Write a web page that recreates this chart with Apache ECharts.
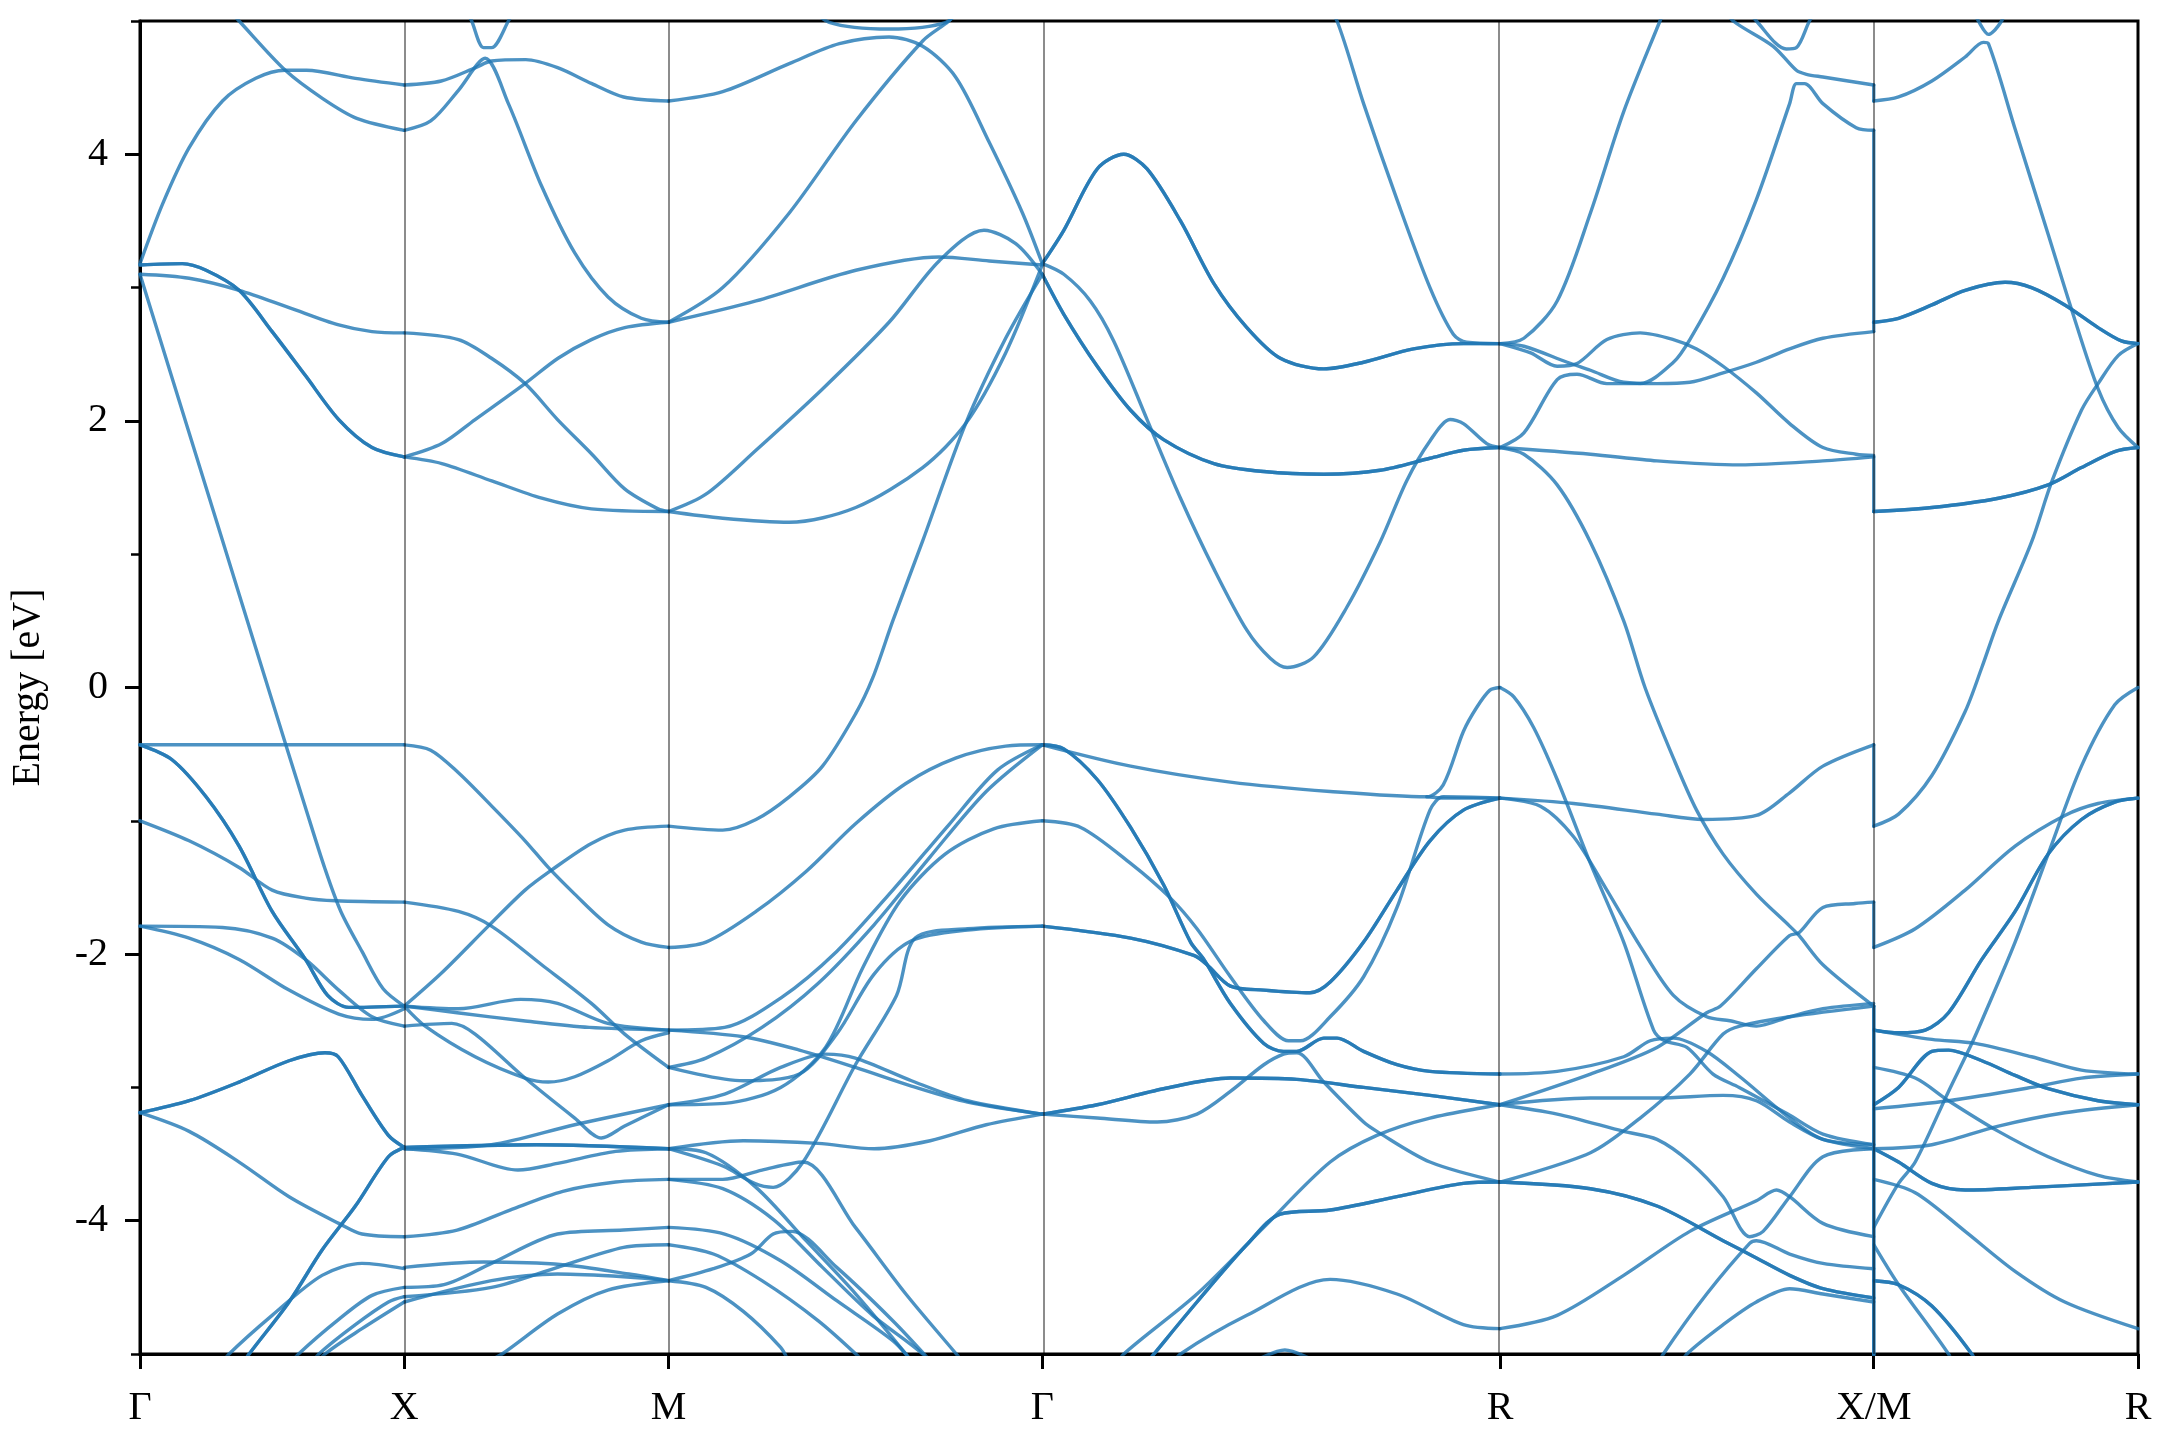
<!DOCTYPE html>
<html><head><meta charset="utf-8">
<script src="https://cdn.jsdelivr.net/npm/echarts@6/dist/echarts.min.js"></script>
<style>html,body{margin:0;padding:0;background:#fff}#c{width:2160px;height:1440px}</style>
</head><body><div id="c"></div>
<script>
// k-path nodes (reciprocal-space distance) and labels
const kNodes = [0, 0.5, 1.0, 1.7071, 2.5731, 3.2802, 3.7802];
const kLabels = ['Γ', 'X', 'M', 'Γ', 'R', 'X/M', 'R'];
const yMajor = [-4, -2, 0, 2, 4];
const yMinor = [-5, -3, -1, 1, 3, 5];

// Bands per path segment: each curve is a list of [fraction along segment, energy eV]
// "deg" lists hold doubly degenerate bands (drawn twice)
const bandsGX = [
  [[0.30,5.16],[0.375,5.0],[0.55,4.63],[0.69,4.42],[0.82,4.27],[1,4.18]],
  [[0,3.18],[0.086,3.63],[0.186,4.05],[0.312,4.40],[0.438,4.57],[0.55,4.63],[0.63,4.63],[0.815,4.57],[1,4.52]],
  [[0,3.10],[0.186,3.07],[0.375,2.98],[0.564,2.85],[0.752,2.72],[0.878,2.67],[1,2.66]],
  [[0,3.10],[0.125,2.30],[0.25,1.50],[0.375,0.70],[0.5,-0.10],[0.626,-0.90],[0.70,-1.36],[0.76,-1.68],[0.84,-1.98],[0.92,-2.26],[1,-2.39]],
  [[0,-0.43],[0.5,-0.43],[1,-0.43]],
  [[0,-1.0],[0.186,-1.15],[0.375,-1.35],[0.5,-1.52],[0.626,-1.58],[0.74,-1.60],[1,-1.61]],
  [[0,-1.79],[0.312,-1.80],[0.5,-1.88],[0.626,-2.04],[0.752,-2.27],[0.878,-2.47],[1,-2.54]],
  [[0,-1.79],[0.186,-1.88],[0.375,-2.04],[0.564,-2.27],[0.752,-2.45],[0.878,-2.49],[1,-2.41]],
  [[0,-3.19],[0.186,-3.33],[0.375,-3.56],[0.564,-3.82],[0.752,-4.02],[0.84,-4.10],[1,-4.12]],
  [[0.30,-5.1],[0.337,-5.0],[0.5,-4.71],[0.689,-4.41],[0.84,-4.32],[1,-4.36]],
  [[0.56,-5.1],[0.6,-5.0],[0.752,-4.74],[0.878,-4.56],[1,-4.50]],
  [[0.64,-5.1],[0.677,-5.0],[0.815,-4.78],[0.94,-4.61],[1,-4.57]],
  [[0.66,-5.1],[0.70,-5.0],[0.84,-4.81],[1,-4.61]]
];
const degGX = [
  [[0,3.17],[0.16,3.18],[0.25,3.13],[0.375,2.98],[0.5,2.67],[0.626,2.34],[0.752,2.01],[0.878,1.80],[1,1.73]],
  [[0,-0.43],[0.12,-0.54],[0.25,-0.82],[0.375,-1.19],[0.5,-1.68],[0.626,-2.04],[0.71,-2.31],[0.79,-2.40],[1,-2.39]],
  [[0,-3.19],[0.186,-3.10],[0.375,-2.96],[0.564,-2.80],[0.70,-2.74],[0.75,-2.77],[0.84,-3.06],[0.94,-3.36],[1,-3.45]],
  [[0.38,-5.1],[0.413,-5.0],[0.564,-4.61],[0.689,-4.22],[0.815,-3.89],[0.94,-3.52],[1,-3.45]]
];

const bandsXM = [
  [[0,4.52],[0.14,4.55],[0.27,4.65],[0.33,4.70],[0.46,4.71],[0.58,4.65],[0.71,4.53],[0.83,4.43],[1,4.40]],
  [[0,4.18],[0.10,4.25],[0.205,4.48],[0.306,4.72],[0.394,4.38],[0.52,3.76],[0.645,3.26],[0.771,2.93],[0.897,2.77],[1,2.74]],
  [[0.22,5.15],[0.255,5.0],[0.30,4.80],[0.33,4.80],[0.394,5.0],[0.43,5.15]],
  [[0,2.66],[0.205,2.61],[0.33,2.47],[0.457,2.28],[0.58,2.01],[0.71,1.75],[0.834,1.49],[0.96,1.34],[1,1.32]],
  [[0,1.73],[0.142,1.83],[0.268,2.01],[0.457,2.28],[0.582,2.47],[0.708,2.61],[0.834,2.70],[1,2.74]],
  [[0,1.73],[0.142,1.68],[0.331,1.55],[0.52,1.42],[0.708,1.34],[1,1.32]],
  [[0,-0.43],[0.1,-0.47],[0.205,-0.64],[0.331,-0.89],[0.457,-1.15],[0.545,-1.35],[0.645,-1.55],[0.771,-1.78],[0.897,-1.91],[1,-1.95]],
  [[0,-2.39],[0.142,-2.14],[0.318,-1.79],[0.457,-1.52],[0.557,-1.37],[0.708,-1.17],[0.834,-1.07],[1,-1.04]],
  [[0,-1.61],[0.205,-1.68],[0.33,-1.79],[0.52,-2.08],[0.708,-2.37],[0.834,-2.60],[1,-2.85]],
  [[0,-2.39],[0.205,-2.41],[0.44,-2.34],[0.58,-2.37],[0.77,-2.52],[1,-2.57]],
  [[0,-2.39],[0.2,-2.44],[0.45,-2.50],[0.7,-2.55],[1,-2.57]],
  [[0,-2.39],[0.079,-2.54],[0.268,-2.77],[0.457,-2.93],[0.545,-2.96],[0.645,-2.92],[0.771,-2.80],[0.897,-2.65],[1,-2.59]],
  [[0,-2.54],[0.18,-2.52],[0.268,-2.60],[0.457,-2.93],[0.645,-3.23],[0.746,-3.38],[0.834,-3.29],[1,-3.13]],
  [[0,-3.46],[0.33,-3.43],[0.645,-3.28],[1,-3.13]],
  [[0,-3.46],[0.2,-3.50],[0.43,-3.62],[0.58,-3.57],[0.8,-3.48],[1,-3.46]],
  [[0,-4.12],[0.2,-4.07],[0.4,-3.92],[0.6,-3.78],[0.8,-3.71],[1,-3.69]],
  [[0,-4.35],[0.3,-4.31],[0.6,-4.33],[0.85,-4.40],[1,-4.45]],
  [[0,-4.50],[0.15,-4.48],[0.33,-4.32],[0.58,-4.10],[0.83,-4.07],[1,-4.05]],
  [[0,-4.57],[0.33,-4.50],[0.58,-4.35],[0.83,-4.20],[1,-4.18]],
  [[0,-4.61],[0.33,-4.45],[0.58,-4.40],[0.83,-4.42],[1,-4.45]],
  [[0.32,-5.05],[0.37,-5.0],[0.58,-4.7],[0.77,-4.52],[1,-4.45]]
];
const degXM = [
  [[0,-3.45],[0.5,-3.43],[1,-3.46]]
];

const bandsMG = [
  [[0.36,5.15],[0.43,4.99],[0.59,4.94],[0.742,4.99],[0.80,5.15]],
  [[0,4.40],[0.145,4.47],[0.323,4.68],[0.457,4.83],[0.59,4.88],[0.68,4.81],[0.768,4.58],[0.858,4.09],[0.947,3.56],[1,3.18]],
  [[0,2.74],[0.145,3.0],[0.323,3.56],[0.501,4.25],[0.68,4.85],[0.75,5.0],[0.78,5.1]],
  [[0,2.74],[0.234,2.90],[0.501,3.13],[0.724,3.23],[0.858,3.20],[1,3.17]],
  [[0,1.32],[0.1,1.45],[0.234,1.78],[0.412,2.24],[0.59,2.74],[0.724,3.20],[0.844,3.43],[0.929,3.33],[1,3.10]],
  [[0,1.32],[0.145,1.27],[0.323,1.24],[0.501,1.35],[0.68,1.65],[0.795,1.98],[0.902,2.51],[1,3.17]],
  [[0,-1.04],[0.145,-1.07],[0.234,-0.99],[0.323,-0.82],[0.412,-0.59],[0.50,-0.20],[0.546,0.07],[0.60,0.5],[0.68,1.10],[0.795,1.98],[0.902,2.62],[1,3.10]],
  [[0,-1.95],[0.1,-1.91],[0.234,-1.68],[0.368,-1.38],[0.501,-1.02],[0.635,-0.72],[0.768,-0.53],[0.902,-0.44],[1,-0.43]],
  [[0,-2.57],[0.15,-2.55],[0.3,-2.33],[0.45,-1.98],[0.6,-1.52],[0.75,-1.03],[0.88,-0.62],[1,-0.43]],
  [[0,-2.85],[0.1,-2.78],[0.25,-2.55],[0.4,-2.22],[0.55,-1.78],[0.7,-1.27],[0.85,-0.78],[1,-0.43]],
  [[0,-2.57],[0.2,-2.62],[0.35,-2.72],[0.5,-2.85],[0.65,-2.99],[0.8,-3.11],[1,-3.2]],
  [[0,-3.13],[0.15,-3.05],[0.3,-2.85],[0.42,-2.75],[0.5,-2.78],[0.65,-2.95],[0.8,-3.1],[1,-3.2]],
  [[0,-3.13],[0.15,-3.12],[0.3,-3.0],[0.42,-2.7],[0.52,-2.1],[0.62,-1.6],[0.74,-1.25],[0.87,-1.06],[1,-1.0]],
  [[0,-3.46],[0.145,-3.59],[0.23,-3.72],[0.28,-3.75],[0.36,-3.56],[0.5,-2.83],[0.61,-2.31],[0.66,-1.88],[0.8,-1.81],[1,-1.79]],
  [[0,-2.85],[0.2,-2.95],[0.35,-2.9],[0.45,-2.6],[0.55,-2.15],[0.65,-1.9],[0.8,-1.82],[1,-1.79]],
  [[0,-3.46],[0.2,-3.40],[0.4,-3.42],[0.55,-3.46],[0.7,-3.40],[0.85,-3.28],[1,-3.2]],
  [[0,-3.69],[0.145,-3.69],[0.25,-3.62],[0.36,-3.56],[0.5,-4.05],[0.635,-4.55],[0.77,-5.0],[0.8,-5.1]],
  [[0,-3.46],[0.1,-3.49],[0.234,-3.75],[0.368,-4.15],[0.501,-4.55],[0.635,-5.0],[0.66,-5.1]],
  [[0,-3.69],[0.145,-3.76],[0.28,-3.99],[0.412,-4.35],[0.546,-4.71],[0.68,-5.0],[0.7,-5.1]],
  [[0,-4.05],[0.15,-4.1],[0.3,-4.3],[0.45,-4.6],[0.6,-4.9],[0.65,-5.05]],
  [[0,-4.18],[0.12,-4.25],[0.25,-4.45],[0.4,-4.75],[0.52,-5.05]],
  [[0,-4.45],[0.1,-4.5],[0.2,-4.68],[0.3,-4.95],[0.32,-5.05]],
  [[0,-4.45],[0.12,-4.36],[0.22,-4.25],[0.28,-4.10],[0.33,-4.08],[0.45,-4.35],[0.6,-4.75],[0.7,-5.05]]
];
const degMG = [];

const bandsGR = [
  [[0,3.18],[0.047,3.10],[0.105,2.90],[0.156,2.60],[0.229,2.01],[0.302,1.42],[0.375,0.89],[0.447,0.43],[0.498,0.22],[0.535,0.15],[0.593,0.23],[0.665,0.60],[0.738,1.09],[0.796,1.55],[0.847,1.85],[0.891,2.01],[0.92,1.98],[0.971,1.83],[1,1.80]],
  [[0.62,5.1],[0.644,5.0],[0.702,4.38],[0.775,3.66],[0.847,3.0],[0.898,2.65],[0.927,2.59],[1,2.58]],
  [[0,-0.43],[0.193,-0.59],[0.411,-0.71],[0.629,-0.78],[0.84,-0.82],[0.876,-0.73],[0.92,-0.33],[0.949,-0.15],[0.978,-0.02],[1,0.0]],
  [[0.84,-0.82],[0.88,-0.83],[1,-0.83]],
  [[0,-1.0],[0.084,-1.05],[0.193,-1.32],[0.28,-1.58],[0.338,-1.81],[0.411,-2.17],[0.484,-2.50],[0.538,-2.65],[0.564,-2.65],[0.629,-2.47],[0.702,-2.17],[0.775,-1.65],[0.847,-0.92],[0.876,-0.82],[1,-0.83]],
  [[0,-3.2],[0.12,-3.23],[0.251,-3.26],[0.338,-3.2],[0.411,-3.03],[0.484,-2.83],[0.527,-2.75],[0.556,-2.74],[0.615,-2.96],[0.702,-3.26],[0.731,-3.33],[0.847,-3.56],[1,-3.71]],
  [[0.16,-5.1],[0.178,-5.0],[0.338,-4.55],[0.484,-4.05],[0.629,-3.56],[0.731,-3.36],[0.847,-3.23],[1,-3.13]],
  [[0.28,-5.1],[0.302,-5.0],[0.447,-4.71],[0.629,-4.44],[0.775,-4.55],[0.92,-4.78],[1,-4.81]],
  [[0.46,-5.06],[0.53,-4.97],[0.60,-5.06]]
];
const degGR = [
  [[0,3.18],[0.047,3.43],[0.12,3.89],[0.178,4.00],[0.229,3.89],[0.302,3.50],[0.375,3.03],[0.447,2.70],[0.52,2.47],[0.615,2.39],[0.702,2.44],[0.811,2.54],[0.92,2.58],[1,2.58]],
  [[0,3.10],[0.047,2.80],[0.12,2.41],[0.193,2.08],[0.265,1.86],[0.375,1.68],[0.484,1.62],[0.615,1.60],[0.738,1.63],[0.847,1.72],[0.92,1.78],[1,1.80]],
  [[0,-0.43],[0.047,-0.46],[0.12,-0.69],[0.193,-1.05],[0.265,-1.48],[0.324,-1.91],[0.353,-2.04],[0.411,-2.37],[0.484,-2.67],[0.527,-2.73],[0.556,-2.73],[0.615,-2.63],[0.644,-2.63],[0.702,-2.73],[0.775,-2.83],[0.847,-2.88],[1,-2.90]],
  [[0,-1.79],[0.193,-1.88],[0.331,-2.01],[0.36,-2.08],[0.411,-2.24],[0.484,-2.27],[0.585,-2.29],[0.629,-2.21],[0.702,-1.91],[0.775,-1.52],[0.847,-1.15],[0.92,-0.92],[1,-0.83]],
  [[0,-3.2],[0.12,-3.13],[0.265,-3.01],[0.411,-2.93],[0.556,-2.94],[0.702,-3.0],[0.847,-3.06],[1,-3.13]],
  [[0.22,-5.1],[0.244,-5.0],[0.338,-4.61],[0.447,-4.18],[0.52,-3.95],[0.629,-3.92],[0.775,-3.82],[0.92,-3.72],[1,-3.71]]
];

const bandsRX = [
  [[0,2.58],[0.064,2.62],[0.153,2.90],[0.242,3.56],[0.331,4.32],[0.428,5.0],[0.45,5.15]],
  [[0,2.58],[0.082,2.51],[0.153,2.41],[0.206,2.43],[0.286,2.61],[0.375,2.66],[0.464,2.61],[0.526,2.54],[0.597,2.41],[0.686,2.21],[0.775,1.98],[0.864,1.80],[0.953,1.75],[1,1.74]],
  [[0,2.58],[0.064,2.56],[0.18,2.44],[0.242,2.38],[0.331,2.29],[0.42,2.28],[0.508,2.29],[0.597,2.36],[0.686,2.44],[0.775,2.54],[0.864,2.62],[1,2.67]],
  [[0,1.80],[0.064,1.91],[0.153,2.31],[0.206,2.35],[0.286,2.28],[0.375,2.28],[0.464,2.44],[0.508,2.61],[0.597,3.07],[0.686,3.66],[0.775,4.38],[0.793,4.53],[0.815,4.53],[0.864,4.38],[0.953,4.20],[1,4.18]],
  [[0,1.80],[0.242,1.75],[0.42,1.70],[0.642,1.67],[0.864,1.70],[1,1.73]],
  [[0,1.80],[0.064,1.75],[0.153,1.52],[0.242,1.09],[0.331,0.50],[0.388,0.0],[0.464,-0.53],[0.526,-0.92],[0.597,-1.25],[0.686,-1.55],[0.775,-1.79],[0.80,-1.86],[0.864,-2.08],[1,-2.39]],
  [[0.60,5.1],[0.624,5.0],[0.731,4.81],[0.793,4.63],[0.82,4.60],[0.864,4.58],[1,4.52]],
  [[0.66,5.1],[0.686,5.0],[0.766,4.79],[0.793,4.80],[0.828,5.0],[0.85,5.1]],
  [[0,0.0],[0.037,-0.07],[0.09,-0.30],[0.153,-0.69],[0.242,-1.32],[0.331,-1.91],[0.411,-2.57],[0.44,-2.65],[0.50,-2.70],[0.57,-2.90],[0.64,-3.0],[0.77,-3.20],[0.864,-3.35],[1,-3.43]],
  [[0,-0.83],[0.197,-0.87],[0.42,-0.95],[0.544,-0.99],[0.686,-0.96],[0.775,-0.79],[0.864,-0.59],[1,-0.43]],
  [[0,-0.83],[0.108,-0.89],[0.197,-1.12],[0.286,-1.52],[0.375,-1.94],[0.464,-2.31],[0.553,-2.47],[0.615,-2.50],[0.686,-2.54],[0.775,-2.47],[0.864,-2.41],[1,-2.37]],
  [[0,-2.90],[0.153,-2.88],[0.331,-2.77],[0.402,-2.65],[0.464,-2.63],[0.553,-2.73],[0.642,-2.92],[0.775,-3.23],[0.864,-3.39],[1,-3.43]],
  [[0,-3.13],[0.242,-3.08],[0.42,-3.08],[0.597,-3.06],[0.686,-3.10],[0.775,-3.26],[0.864,-3.39],[1,-3.46]],
  [[0,-3.13],[0.153,-3.2],[0.331,-3.33],[0.42,-3.39],[0.508,-3.56],[0.597,-3.82],[0.668,-4.12],[0.704,-4.08],[0.775,-3.82],[0.864,-3.52],[1,-3.46]],
  [[0,-3.13],[0.242,-2.90],[0.42,-2.70],[0.553,-2.44],[0.59,-2.39],[0.686,-2.11],[0.775,-1.86],[0.80,-1.84],[0.864,-1.65],[0.95,-1.62],[1,-1.61]],
  [[0,-3.71],[0.242,-3.49],[0.375,-3.23],[0.508,-2.90],[0.597,-2.60],[0.642,-2.54],[0.775,-2.47],[1,-2.39]],
  [[0,-4.81],[0.153,-4.71],[0.331,-4.41],[0.508,-4.08],[0.686,-3.85],[0.74,-3.77],[0.775,-3.82],[0.864,-4.02],[1,-4.12]],
  [[0.42,-5.1],[0.437,-5.0],[0.553,-4.55],[0.668,-4.17],[0.686,-4.15],[0.775,-4.25],[0.864,-4.32],[1,-4.36]],
  [[0.48,-5.1],[0.5,-5.0],[0.597,-4.78],[0.686,-4.61],[0.775,-4.51],[0.864,-4.55],[1,-4.61]]
];
const degRX = [
  [[0,-3.71],[0.242,-3.76],[0.42,-3.89],[0.597,-4.15],[0.686,-4.28],[0.775,-4.41],[0.864,-4.51],[1,-4.58]]
];

const bandsMR = [
  [[0,4.40],[0.094,4.43],[0.22,4.55],[0.346,4.73],[0.415,4.84],[0.434,4.83],[0.535,4.19],[0.66,3.40],[0.748,2.84],[0.849,2.24],[0.925,1.95],[1,1.80]],
  [[0.37,5.1],[0.396,5.0],[0.434,4.90],[0.484,5.0],[0.50,5.1]],
  [[0,-1.04],[0.094,-0.95],[0.22,-0.66],[0.346,-0.18],[0.409,0.15],[0.472,0.50],[0.597,1.09],[0.673,1.54],[0.786,2.08],[0.849,2.28],[0.925,2.49],[1,2.58]],
  [[0,-1.95],[0.157,-1.81],[0.346,-1.52],[0.535,-1.19],[0.723,-0.96],[0.849,-0.87],[1,-0.83]],
  [[0,-4.05],[0.094,-3.72],[0.157,-3.56],[0.283,-3.03],[0.371,-2.67],[0.409,-2.50],[0.535,-1.91],[0.66,-1.25],[0.786,-0.59],[0.912,-0.13],[1,0.0]],
  [[0,-2.57],[0.22,-2.64],[0.384,-2.67],[0.597,-2.77],[0.786,-2.87],[1,-2.90]],
  [[0,-3.16],[0.283,-3.1],[0.597,-3.0],[0.786,-2.93],[1,-2.90]],
  [[0,-2.85],[0.157,-2.93],[0.283,-3.1],[0.472,-3.33],[0.66,-3.52],[0.849,-3.66],[1,-3.71]],
  [[0,-3.46],[0.22,-3.43],[0.472,-3.29],[0.723,-3.19],[1,-3.13]],
  [[0,-3.69],[0.157,-3.79],[0.346,-4.08],[0.535,-4.38],[0.723,-4.61],[1,-4.81]],
  [[0,-4.18],[0.094,-4.48],[0.283,-5.0],[0.30,-5.1]]
];
const degMR = [
  [[0,2.74],[0.094,2.77],[0.22,2.87],[0.346,2.98],[0.497,3.04],[0.597,3.0],[0.723,2.87],[0.849,2.70],[0.937,2.60],[1,2.58]],
  [[0,1.32],[0.22,1.35],[0.472,1.42],[0.66,1.52],[0.786,1.65],[0.912,1.77],[1,1.80]],
  [[0,-2.57],[0.094,-2.59],[0.195,-2.57],[0.283,-2.44],[0.409,-2.04],[0.535,-1.68],[0.66,-1.25],[0.786,-0.99],[0.912,-0.86],[1,-0.83]],
  [[0,-3.13],[0.094,-3.0],[0.22,-2.73],[0.283,-2.72],[0.409,-2.80],[0.535,-2.91],[0.66,-3.01],[0.849,-3.10],[1,-3.13]],
  [[0,-3.46],[0.094,-3.56],[0.22,-3.72],[0.346,-3.77],[0.597,-3.75],[1,-3.71]],
  [[0,-4.45],[0.094,-4.48],[0.22,-4.64],[0.371,-5.0],[0.39,-5.1]]
];

// Discontinuity at X|M: [energy at X, energy at M]
const jumpsXM = [[4.52,4.40],[4.18,2.74],[2.67,2.74],[1.73,1.32],[-0.43,-1.04],[-1.61,-1.95],[-2.39,-5.2],[-2.39,-5.2]];

const segments = [[bandsGX,degGX],[bandsXM,degXM],[bandsMG,degMG],[bandsGR,degGR],[bandsRX,degRX],[bandsMR,degMR]];

const BAND_COLOR = 'rgba(31,119,180,0.8)';
function bandSeries(data, smooth) {
  return {
    type: 'line', data: data, smooth: smooth ? 0.3 : false,
    showSymbol: false, symbol: 'none', silent: true, animation: false, z: 3,
    lineStyle: { width: 3.4, color: BAND_COLOR, cap: 'round', join: 'round' },
    clip: true
  };
}

const series = [];
// symmetry-point vertical lines
series.push({
  type: 'line', data: [], silent: true, animation: false, z: 1,
  markLine: {
    silent: true, symbol: ['none', 'none'], animation: false,
    label: { show: false },
    lineStyle: { color: 'rgba(0,0,0,0.45)', width: 2, type: 'solid' },
    data: kNodes.slice(1, -1).map(k => ({ xAxis: k }))
  }
});
segments.forEach(([single, deg], i) => {
  const a = kNodes[i], b = kNodes[i + 1];
  const conv = p => [a + p[0] * (b - a), p[1]];
  single.forEach(c => series.push(bandSeries(c.map(conv), true)));
  deg.forEach(c => {
    series.push(bandSeries(c.map(conv), true));
    series.push(bandSeries(c.map(conv), true));
  });
});
jumpsXM.forEach(([ex, em]) => series.push(bandSeries([[kNodes[5], ex], [kNodes[5], em]], false)));

const FONT = "'Liberation Serif', 'DejaVu Serif', serif";
const chart = echarts.init(document.getElementById('c'), null, { renderer: 'canvas' });
chart.setOption({
  animation: false,
  backgroundColor: '#fff',
  grid: { left: 137, right: 22, top: 21, bottom: 86, show: true, borderColor: '#000', borderWidth: 3, containLabel: false },
  xAxis: {
    type: 'value', min: 0, max: kNodes[kNodes.length - 1],
    axisLine: { show: true, onZero: false, lineStyle: { color: '#000', width: 3 } },
    axisTick: { show: true, customValues: kNodes, length: 15, lineStyle: { color: '#000', width: 3 } },
    axisLabel: {
      customValues: kNodes, margin: 34, color: '#000', fontFamily: FONT, fontSize: 40,
      formatter: v => {
        let best = 0;
        kNodes.forEach((k, i) => { if (Math.abs(k - v) < Math.abs(kNodes[best] - v)) best = i; });
        return kLabels[best];
      }
    },
    splitLine: { show: false }
  },
  yAxis: [
    {
      type: 'value', min: -5, max: 5, interval: 1,
      axisLine: { show: true, onZero: false, lineStyle: { color: '#000', width: 3 } },
      axisTick: { show: true, customValues: yMajor, length: 15, lineStyle: { color: '#000', width: 3 } },
      axisLabel: { customValues: yMajor, margin: 32, color: '#000', fontFamily: FONT, fontSize: 40, formatter: v => String(v) },
      splitLine: { show: false },
      name: 'Energy [eV]', nameLocation: 'middle', nameGap: 92,
      nameTextStyle: { color: '#000', fontFamily: FONT, fontSize: 40 }
    },
    {
      type: 'value', min: -5, max: 5, interval: 1, position: 'left',
      axisLine: { show: false },
      axisTick: { show: true, customValues: yMinor, length: 9, lineStyle: { color: '#000', width: 2.5 } },
      axisLabel: { show: false },
      splitLine: { show: false }
    }
  ],
  series: series
});
</script>
</body></html>
